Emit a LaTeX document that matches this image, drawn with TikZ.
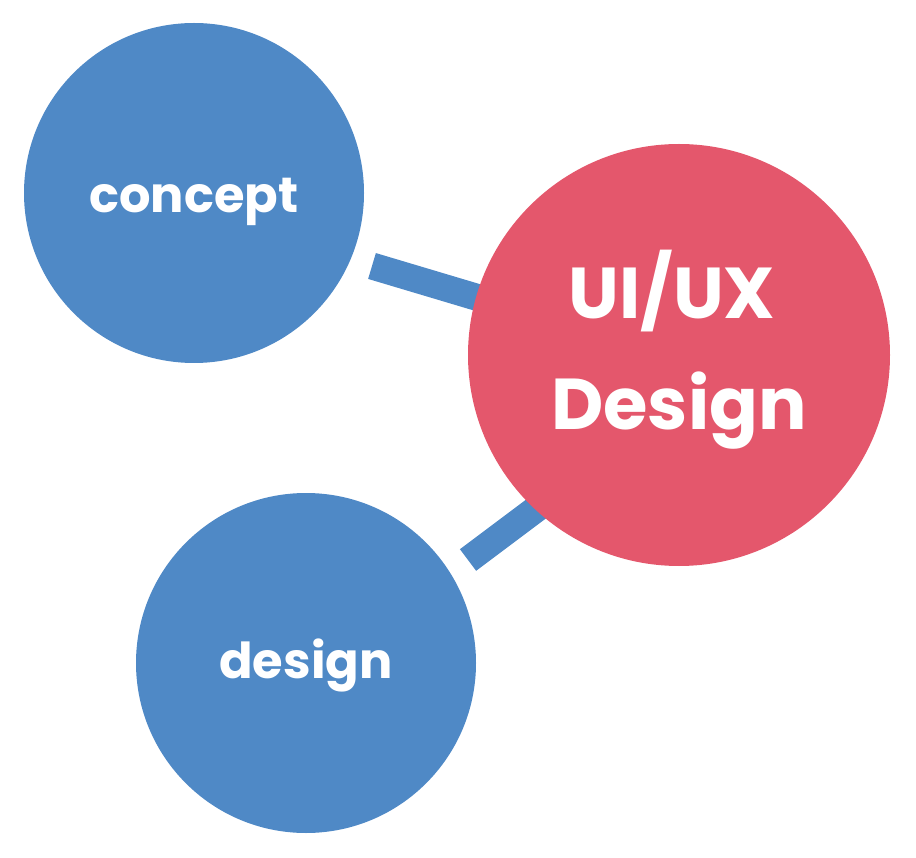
\documentclass[tikz,border=0pt]{standalone}
\usepackage{fontspec}
\setmainfont{Poppins}
\definecolor{bubbleblue}{RGB}{79,137,198}
\definecolor{bubblered}{RGB}{228,87,108}
\begin{document}
\begin{tikzpicture}[x=1pt,y=-1pt,
  bubble/.style={circle,inner sep=0pt,text=white,font=\bfseries,align=center},
  small/.style={bubble,fill=bubbleblue,minimum size=340pt,font=\bfseries\fontsize{49.5}{55}\selectfont,text depth=0pt},
  link/.style={draw=bubbleblue,line width=27pt,line cap=butt}]
\useasboundingbox (0,0) rectangle (916,858);
\coordinate (l1a) at (372,266);
\coordinate (l1b) at (516,309);
\coordinate (l2a) at (468,560);
\coordinate (l2b) at (564,488);
\draw[link] (l1a) -- (l1b);
\draw[link] (l2a) -- (l2b);
\node[small,text height=40pt] (concept) at (194,193) {concept};
\node[small,text height=30pt] (design) at (306,663) {design};
\node[bubble,fill=bubblered,minimum size=422pt,font=\bfseries\fontsize{72}{111}\selectfont] (uiux) at (679,355) {UI/UX\hspace*{14pt}\\Design\rule[-31pt]{0pt}{0pt}};
\end{tikzpicture}
\end{document}
